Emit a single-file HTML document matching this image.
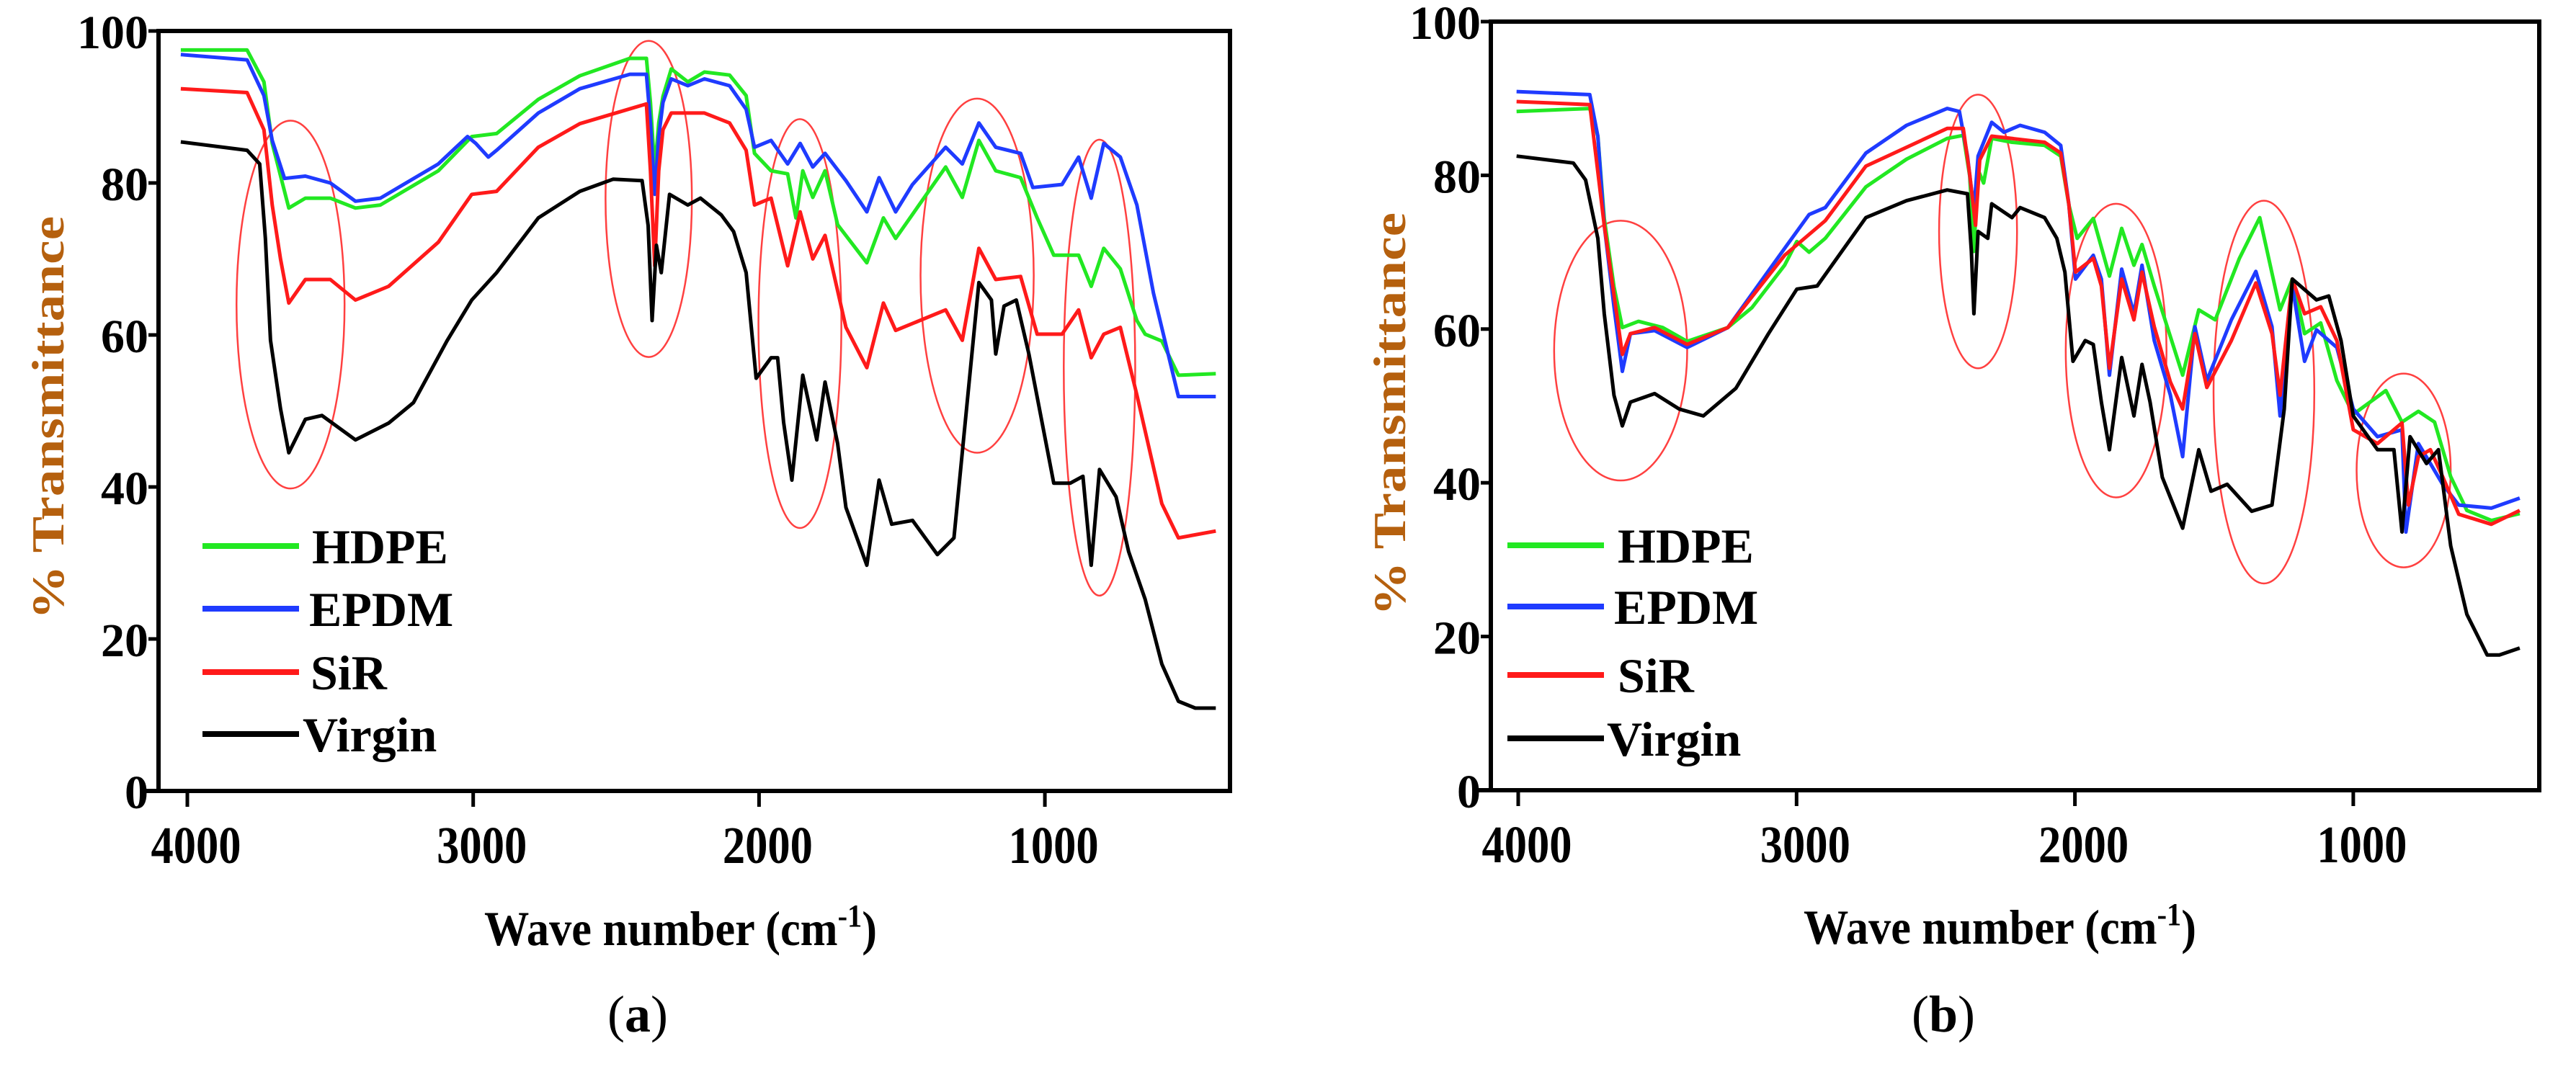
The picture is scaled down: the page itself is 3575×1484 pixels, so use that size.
<!DOCTYPE html>
<html><head><meta charset="utf-8">
<style>
html,body{margin:0;padding:0;background:#fff;}
svg{display:block;}
text{font-family:"Liberation Serif",serif;}
</style></head>
<body>
<svg id="fig" width="3575" height="1484" viewBox="0 0 3575 1484" xmlns="http://www.w3.org/2000/svg">
<rect x="0" y="0" width="3575" height="1484" fill="#fff"/>
<g id="panelA"></g>
<g id="panelB"></g>
</svg>
<script>
// ---- Panel (a) data: [wavenumber, %T] ----
const xTicks = [4000, 3000, 2000, 1000];
const yTicks = [0, 20, 40, 60, 80, 100];
const seriesNames = ["HDPE", "EPDM", "SiR", "Virgin"];
const seriesColors = ["#22e822", "#1f3bff", "#ff1a1a", "#000000"];

const aHDPE = [[4023,97.5],[3791,97.5],[3732,93.3],[3703,85.2],[3645,76.7],[3587,78.0],[3500,78.0],[3412,76.7],[3325,77.1],[3122,81.6],[3005,86.1],[2918,86.5],[2772,91.0],[2627,94.1],[2452,96.4],[2394,96.4],[2380,90.6],[2365,81.6],[2351,87.9],[2336,91.4],[2307,95.0],[2249,93.3],[2191,94.6],[2103,94.2],[2045,91.5],[2016,83.9],[1958,81.6],[1900,81.2],[1871,75.4],[1847,81.6],[1812,78.1],[1769,81.6],[1725,74.5],[1623,69.5],[1565,75.4],[1522,72.7],[1347,82.1],[1289,78.1],[1231,85.6],[1172,81.6],[1085,80.7],[1027,75.4],[969,70.5],[882,70.5],[838,66.4],[794,71.4],[736,68.7],[678,61.9],[649,60.1],[591,59.2],[533,54.7],[402,54.9]];
const aEPDM = [[4023,96.9],[3791,96.2],[3732,91.5],[3703,85.6],[3660,80.6],[3587,80.9],[3500,80.0],[3412,77.6],[3325,78.0],[3122,82.5],[3020,86.1],[2991,85.2],[2947,83.4],[2918,84.3],[2772,89.2],[2627,92.4],[2452,94.3],[2394,94.3],[2380,87.9],[2365,78.5],[2351,86.1],[2336,90.6],[2307,93.7],[2249,92.8],[2191,93.7],[2103,92.8],[2045,89.7],[2016,84.7],[1958,85.6],[1900,82.5],[1856,85.2],[1812,82.1],[1769,83.9],[1696,80.3],[1623,76.2],[1580,80.7],[1522,76.2],[1463,79.8],[1347,84.7],[1289,82.5],[1231,87.9],[1172,84.7],[1085,83.9],[1042,79.4],[940,79.8],[882,83.4],[838,78.0],[794,85.2],[736,83.4],[678,77.1],[620,65.5],[533,51.9],[402,51.9]];
const aSiR = [[4023,92.4],[3791,91.9],[3732,87.0],[3703,77.1],[3674,70.0],[3645,64.2],[3587,67.3],[3500,67.3],[3412,64.6],[3296,66.4],[3122,72.2],[3005,78.5],[2918,78.9],[2772,84.7],[2627,87.8],[2394,90.4],[2380,81.6],[2365,69.1],[2351,81.6],[2336,87.0],[2307,89.2],[2191,89.2],[2103,87.9],[2045,84.3],[2016,77.1],[1958,78.0],[1900,69.1],[1856,76.2],[1812,70.0],[1769,73.1],[1696,61.0],[1623,55.7],[1565,64.2],[1522,60.6],[1347,63.3],[1289,59.3],[1231,71.4],[1172,67.3],[1085,67.7],[1027,60.1],[940,60.1],[882,63.3],[838,57.0],[794,60.1],[736,61.0],[678,52.1],[591,37.8],[533,33.3],[402,34.2]];
const aVirgin = [[4023,85.4],[3791,84.3],[3747,82.5],[3727,72.7],[3709,59.3],[3674,50.3],[3645,44.5],[3587,48.9],[3529,49.4],[3412,46.2],[3296,48.4],[3209,51.1],[3092,59.2],[3005,64.6],[2918,68.2],[2772,75.4],[2627,78.9],[2510,80.5],[2409,80.3],[2388,74.4],[2374,61.9],[2359,71.8],[2342,68.2],[2313,78.5],[2249,77.1],[2205,78.0],[2132,75.8],[2089,73.6],[2045,68.2],[2010,54.3],[1958,57.0],[1935,57.0],[1914,48.5],[1885,40.9],[1847,54.7],[1798,46.2],[1769,53.8],[1725,45.7],[1696,37.3],[1623,29.7],[1580,40.9],[1536,35.1],[1463,35.6],[1376,31.1],[1318,33.3],[1274,50.3],[1231,66.9],[1187,64.6],[1172,57.5],[1143,63.8],[1100,64.6],[1056,57.5],[969,40.5],[911,40.5],[867,41.4],[838,29.7],[809,42.3],[751,38.7],[707,31.5],[649,25.2],[591,16.7],[533,11.8],[474,10.9],[402,10.9]];
// ellipses: [center wavenumber, center %T, half-width (cm-1), half-height (%T)]
const aEllipses = [[3639,64.0,189,24.2],[2386,77.9,151,20.8],[1857,61.5,145,26.9],[1237,67.8,198,23.3],[809,55.7,125,30.0]];

// ---- Panel (b) data ----
const bHDPE = [[4006,88.3],[3743,88.7],[3714,85.1],[3691,74.4],[3656,65.5],[3626,60.2],[3568,61.0],[3481,60.2],[3393,58.4],[3247,60.2],[3160,62.8],[3043,68.3],[2999,71.4],[2955,70.0],[2897,71.8],[2751,78.5],[2605,82.1],[2459,84.8],[2401,85.2],[2378,79.9],[2363,70.1],[2348,80.7],[2328,79.0],[2299,84.8],[2226,84.3],[2109,83.9],[2051,82.5],[2022,76.2],[1992,71.8],[1934,74.4],[1876,66.9],[1832,73.1],[1788,68.3],[1759,71.0],[1715,65.6],[1613,54.0],[1555,62.5],[1496,61.2],[1409,69.2],[1336,74.5],[1263,62.5],[1219,66.5],[1175,59.4],[1117,60.8],[1059,53.3],[1000,48.9],[883,52.0],[825,47.9],[766,49.3],[708,47.9],[650,40.8],[592,36.4],[504,35.1],[402,36.0]];
const bEPDM = [[4006,90.9],[3743,90.5],[3714,85.1],[3691,73.5],[3656,62.9],[3626,54.5],[3597,59.4],[3510,59.8],[3393,57.6],[3247,60.2],[3043,70.5],[2955,74.9],[2897,75.8],[2751,82.9],[2605,86.5],[2459,88.7],[2415,88.3],[2386,82.5],[2363,75.4],[2348,82.5],[2299,86.9],[2255,85.6],[2197,86.5],[2109,85.6],[2051,83.9],[2022,76.3],[1998,66.5],[1934,69.6],[1905,66.5],[1876,54.0],[1832,67.8],[1788,62.0],[1759,68.3],[1715,58.5],[1657,51.4],[1613,43.4],[1569,60.3],[1526,53.3],[1438,61.2],[1350,67.5],[1292,60.3],[1263,48.7],[1219,65.6],[1175,55.8],[1132,59.9],[1059,57.6],[1000,49.6],[913,46.0],[825,46.9],[811,33.6],[766,45.1],[723,42.5],[679,39.8],[621,37.1],[504,36.7],[402,38.0]];
const bSiR = [[4006,89.6],[3743,89.2],[3691,73.5],[3626,56.7],[3597,59.4],[3510,60.2],[3393,58.0],[3247,60.2],[3043,69.6],[2897,74.1],[2751,81.2],[2459,86.1],[2401,86.1],[2378,80.1],[2357,73.5],[2342,82.0],[2299,85.1],[2109,84.3],[2051,82.9],[2022,76.3],[1998,67.4],[1934,69.2],[1905,65.6],[1876,54.9],[1832,66.5],[1788,61.2],[1759,67.4],[1715,60.3],[1657,53.1],[1613,49.6],[1569,59.4],[1526,52.4],[1438,58.5],[1350,66.0],[1292,59.4],[1263,51.4],[1219,66.5],[1175,62.0],[1117,62.9],[1059,58.5],[1000,46.9],[913,45.1],[825,47.8],[802,37.1],[766,43.4],[723,44.3],[679,40.8],[621,35.9],[504,34.6],[402,36.4]];
const bVirgin = [[4006,82.5],[3802,81.6],[3758,79.4],[3714,71.8],[3691,62.0],[3656,51.4],[3626,47.4],[3597,50.5],[3510,51.6],[3422,49.6],[3335,48.7],[3218,52.3],[3101,59.4],[2999,65.2],[2926,65.6],[2751,74.5],[2605,76.7],[2459,78.1],[2386,77.6],[2372,70.1],[2363,62.0],[2348,72.7],[2313,71.8],[2299,76.3],[2226,74.5],[2197,75.8],[2109,74.5],[2065,71.8],[2036,67.4],[2007,55.8],[1963,58.5],[1934,58.0],[1905,50.5],[1876,44.3],[1832,56.3],[1788,48.7],[1759,55.4],[1730,50.5],[1686,40.7],[1613,34.1],[1555,44.3],[1511,38.9],[1453,39.8],[1365,36.3],[1292,37.1],[1248,49.6],[1219,66.5],[1132,63.8],[1088,64.3],[1044,58.5],[1000,48.7],[913,44.3],[854,44.3],[825,33.6],[796,46.0],[737,42.5],[694,44.3],[650,31.8],[592,22.9],[519,17.6],[475,17.6],[402,18.5]];
const bEllipses = [[3632,57.2,239,16.9],[2348,72.7,140,17.8],[1852,57.2,181,19.1],[1321,51.8,181,24.9],[819,41.6,169,12.6]];

const NS = "http://www.w3.org/2000/svg";
function mk(tag, attrs, parent){const e=document.createElementNS(NS,tag);for(const k in attrs)e.setAttribute(k,attrs[k]);parent.appendChild(e);return e;}

function drawPanel(g, cfg, series, ellipses, tag){
  const X = w => cfg.x4000 + (4000 - w) * cfg.pxPerCm;
  const Y = t => cfg.y0 - t * cfg.pxPerPct;
  ellipses.forEach((e,i)=>{
    const el = mk('ellipse',{cx:X(e[0]),cy:Y(e[1]),rx:e[2]*cfg.pxPerCm,ry:e[3]*cfg.pxPerPct,fill:'none',stroke:'#ff4040','stroke-width':2.5},g);
    
    
  });
  series.forEach((s,i)=>{
    const d = s.map((p,j)=>(j?'L':'M')+X(p[0]).toFixed(1)+' '+Y(p[1]).toFixed(1)).join(' ');
    const p = mk('path',{d:d,fill:'none',stroke:seriesColors[i],'stroke-width':5,'stroke-linejoin':'round'},g);
    
    
  });
  const fr = mk('rect',{x:cfg.left,y:cfg.top,width:cfg.right-cfg.left,height:cfg.y0-cfg.top,fill:'none',stroke:'#000','stroke-width':6},g);
  
  
  mk('line',{x1:cfg.left-18,y1:cfg.y0,x2:cfg.left,y2:cfg.y0,stroke:'#000','stroke-width':6},g);
  xTicks.forEach(v=>{
    mk('line',{x1:X(v),y1:cfg.y0,x2:X(v),y2:cfg.y0+22,stroke:'#000','stroke-width':5},g);
    const t = mk('text',{x:X(v)+12,y:cfg.y0+100,'text-anchor':'middle','font-size':68,'font-weight':'bold',fill:'#000',transform:`translate(${X(v)+12},${cfg.y0+100}) scale(0.92,1.08) translate(${-(X(v)+12)},${-(cfg.y0+100)})`},g);
    t.textContent = v;
    
    
  });
  yTicks.forEach(v=>{
    mk('line',{x1:cfg.left-14,y1:Y(v),x2:cfg.left,y2:Y(v),stroke:'#000','stroke-width':5},g);
    const t = mk('text',{x:cfg.left-14,y:Y(v)+24,'text-anchor':'end','font-size':66,'font-weight':'bold',fill:'#000'},g);
    t.textContent = v;
    
    
  });
  const xt = mk('text',{x:cfg.xTitleX,y:cfg.xTitleY,'font-size':68,'font-weight':'bold',fill:'#000',textLength:cfg.xTitleLen,lengthAdjust:'spacingAndGlyphs'},g);
  xt.innerHTML = 'Wave number (cm<tspan dy="-26" font-size="44">-1</tspan><tspan dy="26">)</tspan>';
  
  
  const yt = mk('text',{x:0,y:0,'text-anchor':'middle','font-size':64,'font-weight':'bold',fill:'#b5600e',textLength:560,lengthAdjust:'spacingAndGlyphs',transform:`translate(${cfg.yTitleX},${cfg.yTitleY}) rotate(-90)`},g);
  yt.textContent = '% Transmittance';
  
  
  seriesNames.forEach((n,i)=>{
    const ly = cfg.legY[i];
    const ln = mk('line',{x1:cfg.legX,y1:ly,x2:cfg.legX+134,y2:ly,stroke:seriesColors[i],'stroke-width':8},g);
    
    
    const t = mk('text',{x:cfg.legTextX[i],y:ly+24,'font-size':68,'font-weight':'bold',fill:'#000'},g);
    t.textContent = n;
    
    
  });
  const cap = mk('text',{x:cfg.capX,y:1432,'text-anchor':'middle','font-size':72,fill:'#000'},g);
  cap.innerHTML = '(<tspan font-weight="bold">'+tag+'</tspan>)';
  
  
}

drawPanel(document.getElementById('panelA'),
  {left:220,right:1707,top:43,y0:1098,x4000:260,pxPerCm:0.3967,pxPerPct:10.55,
   xTitleX:672,xTitleY:1312,xTitleLen:545,yTitleX:88,yTitleY:580,
   legX:281,legY:[758,845,933,1019],legTextX:[433,429,431,420],capX:885},
  [aHDPE,aEPDM,aSiR,aVirgin], aEllipses, 'a');
drawPanel(document.getElementById('panelB'),
  {left:2069,right:3524,top:30,y0:1097,x4000:2107,pxPerCm:0.3863,pxPerPct:10.67,
   xTitleX:2503,xTitleY:1310,xTitleLen:545,yTitleX:1950,yTitleY:575,
   legX:2092,legY:[757,842,937,1025],legTextX:[2245,2240,2245,2230],capX:2697},
  [bHDPE,bEPDM,bSiR,bVirgin], bEllipses, 'b');
</script>
</body></html>
